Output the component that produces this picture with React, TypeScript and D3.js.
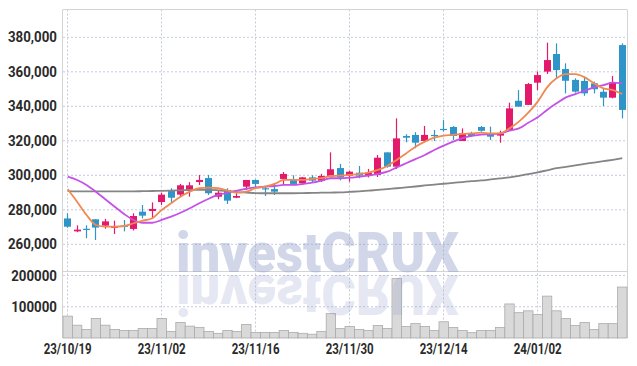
import React from 'react';
import * as d3 from 'd3';

const dates = [
  '23/10/19','23/10/20','23/10/23','23/10/24','23/10/25','23/10/26','23/10/27','23/10/30','23/10/31','23/11/01',
  '23/11/02','23/11/03','23/11/06','23/11/07','23/11/08','23/11/09','23/11/10','23/11/13','23/11/14','23/11/15',
  '23/11/16','23/11/17','23/11/20','23/11/21','23/11/22','23/11/23','23/11/24','23/11/27','23/11/28','23/11/29',
  '23/11/30','23/12/01','23/12/04','23/12/05','23/12/06','23/12/07','23/12/08','23/12/11','23/12/12','23/12/13',
  '23/12/14','23/12/15','23/12/18','23/12/19','23/12/20','23/12/21','23/12/22','23/12/26','23/12/27','23/12/28',
  '24/01/02','24/01/03','24/01/04','24/01/05','24/01/08','24/01/09','24/01/10','24/01/11','24/01/12','24/01/15',
];

const opens = [
  275000,267500,269000,274500,270800,269600,270800,268900,278900,279300,
  284500,291100,288800,290900,296100,298400,287600,291500,287000,293400,
  297300,292500,292000,297900,297700,295400,298800,296900,299200,304200,
  299800,301500,299800,300200,313300,305000,322800,323400,319900,323400,
  326900,328000,319900,324300,328000,324300,323000,326300,343200,340800,
  353700,360100,370300,361600,355300,354700,353300,348400,345000,375500,
];
const highs = [
  278000,271000,271000,274500,274700,273700,274100,278000,282800,284300,
  290000,292500,295000,296000,300200,300200,291500,292500,289600,297300,
  297600,293800,295500,301900,300000,299000,300000,300800,313300,306600,
  302500,305400,303700,311800,313300,333000,323800,325000,328600,326300,
  332000,328600,327200,325200,328600,328200,325900,342100,349400,353500,
  360100,376900,376500,364900,356200,357200,354300,350400,357600,376500,
];
const lows = [
  269600,267000,263500,262500,269000,266000,267500,268000,275000,274700,
  282800,284100,288000,287600,294400,288600,286100,283400,286700,291500,
  292200,288000,288600,294400,294400,294400,295700,296100,298800,297100,
  296300,298300,298800,299000,304400,303700,319100,315700,319900,319900,
  325300,320500,319900,322400,325300,320500,318900,325900,339800,340800,
  349400,358700,356200,347500,347900,346100,347500,340100,344600,333000,
];
const closes = [
  270200,268500,268500,269700,273300,270400,270200,276400,276600,280500,
  288800,287000,294200,294200,297300,289600,289900,285300,288000,297300,
  295000,291900,290500,300800,295000,298800,296900,299600,303500,298800,
  302100,299800,301500,310200,305000,321400,321800,318900,323400,322800,
  326300,322800,324300,322800,325800,322400,324300,338800,339800,352900,
  358100,366800,361000,354800,348500,347500,349900,345000,353700,337900,
];
const volumes = [
  70000,41000,27500,62500,41000,27500,24400,24400,30700,30700,
  62500,21200,49800,38000,34000,21000,15000,24400,21200,43500,
  18000,18000,18000,24400,18000,15000,12000,21200,78000,30000,
  36500,27000,24000,40000,30700,190000,36500,46000,36500,24000,
  52000,33500,24000,17000,24000,24000,33500,109000,81000,87000,
  75000,134000,87000,62000,40000,49500,27000,46000,46000,163000,
];
const ma5 = [
  292000,284700,277000,271200,270200,270200,270600,272200,273700,275100,
  279900,283800,287600,290500,292500,292800,292500,291100,289900,290500,
  292500,293400,295000,297300,297300,297300,297900,298300,299600,299800,
  300200,300800,301500,303100,305400,308900,312700,316600,319500,321800,
  323000,323400,324000,324300,324700,324300,324300,327200,331100,336300,
  342700,351000,356200,358700,358700,356800,353300,350400,349400,347100,
];
const ma20 = [
  299200,297300,294400,290500,286100,281800,277600,274100,272500,272500,
  274100,276000,278300,280900,283800,286400,288600,289900,291100,292200,
  293000,293400,293800,294400,294400,295000,295700,296900,298300,298300,
  298600,299200,299800,300800,302100,304600,307000,309400,311800,314700,
  317200,319500,321500,322800,323600,323800,324300,325900,327200,330500,
  333600,337900,341700,345200,347100,349000,351000,352300,353700,353300,
];
const ma60 = [
  290800,290700,290700,290700,290700,290700,290700,290700,290800,290900,
  291000,291100,291300,291500,291600,291600,291300,290800,290300,290000,
  289700,289600,289600,289600,289600,289700,289800,289900,290000,290100,
  290400,290700,291100,291500,292000,292500,293000,293500,294100,294600,
  295100,295600,296100,296600,297000,297600,298200,298800,299700,300700,
  301700,302900,304100,304900,305800,306600,307400,308200,309000,309900,
];
const priceTicks = [260000, 280000, 300000, 320000, 340000, 360000, 380000];
const volumeTicks = [100000, 200000];
const dateTickIndex = [0, 10, 20, 30, 40, 50];

const UP = '#e3196b';
const DOWN = '#2f95c8';
const GRID = '#c6cadf';
const FONT = 'Roboto, sans-serif';

export default function App() {
  const W = 637, H = 366;
  const left = 63, right = 627, pTop = 9.5, pBottom = 271.5, vBottom = 338;
  const x = d3.scaleBand<number>().domain(d3.range(dates.length)).range([left, right]).padding(0);
  const cx = (i: number) => (x(i) as number) + x.bandwidth() / 2;
  const y = d3.scaleLinear().domain([260000, 380000]).range([244.3, 37.3]);
  const yv = d3.scaleLinear().domain([0, 200000]).range([vBottom, 275.5]);
  const lineGen = d3.line<number>().x((_, i) => cx(i)).y((d) => y(d)).curve(d3.curveMonotoneX);
  const fmt = d3.format(',');

  const wmX = 176, wmBase = 272, wmSize = 56, wmLen = 283;

  return (
    <svg width={W} height={H} style={{ position: 'absolute', left: 0, top: 0, background: '#fff' }}>
      <rect x={0} y={0} width={W} height={H} fill="#fff" />
      {priceTicks.map((t) => (
        <line key={'pg' + t} x1={left} x2={right} y1={y(t)} y2={y(t)} stroke={GRID} strokeDasharray="2,2" strokeWidth={1} />
      ))}
      {volumeTicks.map((t) => (
        <line key={'vg' + t} x1={left} x2={right} y1={yv(t)} y2={yv(t)} stroke={GRID} strokeDasharray="2,2" strokeWidth={1} />
      ))}
      {dateTickIndex.map((i) => (
        <line key={'xg' + i} x1={Math.floor(cx(i)) + 0.5} x2={Math.floor(cx(i)) + 0.5} y1={pTop} y2={vBottom} stroke={GRID} strokeDasharray="2,2" strokeWidth={1} />
      ))}
      <line x1={left} x2={right} y1={pTop} y2={pTop} stroke="#d4d4d4" strokeWidth={1} />
      <line x1={left} x2={right} y1={pBottom} y2={pBottom} stroke="#d4d4d4" strokeWidth={1} />
      <line x1={left - 0.5} x2={left - 0.5} y1={pTop} y2={vBottom} stroke="#d4d4d4" strokeWidth={1} />
      <line x1={right + 0.5} x2={right + 0.5} y1={pTop} y2={vBottom} stroke="#d4d4d4" strokeWidth={1} />

      {volumes.map((v, i) => (
        <rect key={'v' + i} x={x(i) as number} y={yv(v)} width={x.bandwidth()} height={vBottom - yv(v)} fill="#d9d9d9" stroke="#ababab" strokeWidth={0.8} />
      ))}

      {dates.map((d, i) => {
        const o = opens[i], c = closes[i], h = highs[i], l = lows[i];
        const col = c >= o ? UP : DOWN;
        const xc = Math.floor(cx(i)) + 0.5;
        const top = y(Math.max(o, c));
        const bot = y(Math.min(o, c));
        return (
          <g key={'c' + i}>
            <line x1={xc} x2={xc} y1={y(h)} y2={y(l)} stroke={col} strokeWidth={1.2} />
            <rect x={xc - 3.5} y={top} width={7} height={Math.max(1.2, bot - top)} fill={col} />
          </g>
        );
      })}

      <path d={lineGen(ma60) || ''} fill="none" stroke="#858585" strokeWidth={1.8} />
      <path d={lineGen(ma20) || ''} fill="none" stroke="#c452e6" strokeWidth={1.8} />
      <path d={lineGen(ma5) || ''} fill="none" stroke="#ef8a52" strokeWidth={1.8} />

      <text x={wmX} y={wmBase} fontFamily={FONT} fontWeight={900} fontSize={wmSize} textLength={wmLen} lengthAdjust="spacingAndGlyphs" fill="rgba(140,152,200,0.40)">investCRUX</text>
      <g transform={`translate(0,${2 * wmBase + 3}) scale(1,-1)`}>
        <text x={wmX} y={wmBase} fontFamily={FONT} fontWeight={900} fontSize={wmSize} textLength={wmLen} lengthAdjust="spacingAndGlyphs" fill="rgba(140,152,200,0.22)">investCRUX</text>
      </g>

      {priceTicks.map((t) => (
        <text key={'pl' + t} transform={`translate(57,${y(t)}) scale(0.95,1)`} textAnchor="end" dy="0.36em" fontFamily={FONT} fontWeight={700} fontSize={14} fill="#2a2a2a">{fmt(t)}</text>
      ))}
      {volumeTicks.map((t) => (
        <text key={'vl' + t} transform={`translate(57,${yv(t)}) scale(0.95,1)`} textAnchor="end" dy="0.36em" fontFamily={FONT} fontWeight={700} fontSize={14} fill="#2a2a2a">{String(t)}</text>
      ))}
      {dateTickIndex.map((i) => (
        <text key={'dl' + i} transform={`translate(${cx(i)},354) scale(0.82,1)`} textAnchor="middle" fontFamily={FONT} fontWeight={700} fontSize={14} fill="#2a2a2a">{dates[i]}</text>
      ))}
    </svg>
  );
}
